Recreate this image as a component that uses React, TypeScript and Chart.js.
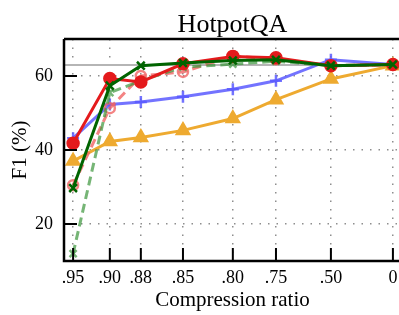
import React, { useEffect, useRef } from "react";
import { Chart, registerables } from "chart.js";

Chart.register(...registerables);

// ---- data ----
const ratioLabels = [".95", ".90", ".88", ".85", ".80", ".75", ".50", "0"];
// axis slots where each compression ratio sits (non-uniform spacing, as in the figure)
const ratioSlots = [0.27, 1.36, 2.28, 3.53, 5.01, 6.29, 7.92, 9.76];
const yTicks = [20, 40, 60];
const fullContextF1 = 63.0;

const redSolid = [41.8, 59.3, 58.4, 63.3, 65.3, 64.9, 62.8, 63.1];
const darkGreenSolid = [29.7, 57.4, 62.8, 63.5, 64.2, 64.4, 62.8, 63.1];
const greenDashed = [12.0, 55.5, 58.7, 62.4, 63.2, 64.0, 62.8, 63.1];
const redDashed = [30.5, 51.3, 60.0, 61.1, 65.4, 64.5, 62.8, 63.0];
const blueSolid = [43.2, 52.3, 53.0, 54.4, 56.4, 58.7, 64.4, 63.1];
const orangeSolid = [37.0, 42.3, 43.4, 45.3, 48.5, 53.6, 59.2, 62.8];

const FONT = "'Liberation Serif', 'Times New Roman', serif";

const toPoints = (vals: number[]) => vals.map((v, i) => ({ x: ratioSlots[i], y: v }));

const axesDecor = {
  id: "axesDecor",
  afterDatasetsDraw(chart: any) {
    const { ctx, chartArea, scales } = chart;
    const { left, right, top, bottom } = chartArea;
    const x = scales.x;
    const y = scales.y;
    ctx.save();
    ctx.strokeStyle = "#000";
    ctx.lineWidth = 2.5;
    ctx.beginPath();
    ctx.moveTo(left, top);
    ctx.lineTo(right, top);
    ctx.moveTo(left, top);
    ctx.lineTo(left, bottom);
    ctx.lineTo(right, bottom);
    ctx.stroke();
    ctx.lineWidth = 2;
    ctx.beginPath();
    y.ticks.forEach((t: any) => {
      const py = y.getPixelForValue(t.value);
      ctx.moveTo(left, py);
      ctx.lineTo(left + 13, py);
    });
    x.ticks.forEach((t: any) => {
      const px = x.getPixelForValue(t.value);
      ctx.moveTo(px, bottom);
      ctx.lineTo(px, bottom - 13);
    });
    ctx.stroke();
    ctx.restore();
  },
};

export default function App() {
  const ref = useRef<HTMLCanvasElement | null>(null);

  useEffect(() => {
    if (!ref.current) return;
    const line = (
      data: number[],
      color: string,
      pointStyle: string,
      opts: any = {}
    ) => ({
      data: toPoints(data),
      borderColor: color,
      backgroundColor: color,
      pointBorderColor: color,
      pointBackgroundColor: color,
      borderWidth: 3,
      pointStyle,
      pointRadius: 5.5,
      pointBorderWidth: 2.5,
      tension: 0,
      ...opts,
    });

    const chart = new Chart(ref.current, {
      type: "line",
      data: {
        datasets: [
          line(darkGreenSolid, "#006400", "crossRot"),
          line(redSolid, "#e41a1c", "circle", { pointRadius: 5.5 }),
          line(greenDashed, "rgba(60,150,60,0.7)", "crossRot", {
            borderDash: [9, 5],
            pointRadius: 5,
          }),
          line(redDashed, "rgba(240,100,100,0.8)", "circle", {
            borderDash: [9, 5],
            pointBackgroundColor: "rgba(255,255,255,0)",
            pointRadius: 5,
          }),
          line(blueSolid, "rgba(90,90,255,0.85)", "cross", { pointRadius: 6 }),
          line(orangeSolid, "#eeaa30", "triangle", { pointRadius: 7 }),
          {
            data: [
              { x: 0, y: fullContextF1 },
              { x: 10, y: fullContextF1 },
            ],
            borderColor: "#b5b5b5",
            borderWidth: 2,
            pointRadius: 0,
          },
        ] as any,
      },
      options: {
        animation: false,
        responsive: false,
        maintainAspectRatio: false,
        layout: { padding: { left: 0, right: 29, top: 0, bottom: 0 } },
        plugins: {
          legend: { display: false },
          tooltip: { enabled: false },
          title: {
            display: true,
            fullSize: false,
            text: "HotpotQA",
            color: "#000",
            font: { family: FONT, size: 26, weight: "normal", lineHeight: 1 },
            padding: { top: 12, bottom: 1 },
          },
        },
        scales: {
          x: {
            type: "linear",
            min: 0,
            max: 10,
            afterBuildTicks: (s: any) => {
              s.ticks = ratioSlots.map((v) => ({ value: v }));
            },
            afterFit: (s: any) => {
              s.height = 54;
            },
            ticks: {
              color: "#000",
              font: { family: FONT, size: 18 },
              padding: 6,
              maxRotation: 0,
              autoSkip: false,
              callback: (_v: any, i: number) => ratioLabels[i],
            },
            grid: {
              drawTicks: false,
              color: "rgba(130,130,130,0.9)",
              lineWidth: 1.5,
            },
            border: { display: false, dash: [1.5, 7] },
            title: {
              display: true,
              text: "Compression ratio",
              color: "#000",
              font: { family: FONT, size: 21 },
              padding: { top: 0, bottom: 2 },
            },
          },
          y: {
            type: "linear",
            min: 10,
            max: 70,
            afterBuildTicks: (s: any) => {
              s.ticks = yTicks.map((v) => ({ value: v }));
            },
            afterFit: (s: any) => {
              s.width = 64;
            },
            ticks: {
              color: "#000",
              font: { family: FONT, size: 18 },
              padding: 11,
            },
            grid: {
              drawTicks: false,
              color: "rgba(130,130,130,0.9)",
              lineWidth: 1.5,
            },
            border: { display: false, dash: [1.5, 7] },
            title: {
              display: true,
              text: "F1 (%)",
              color: "#000",
              font: { family: FONT, size: 21 },
              padding: { top: 8, bottom: 0 },
            },
          },
        },
      } as any,
      plugins: [axesDecor],
    });
    return () => chart.destroy();
  }, []);

  return (
    <div
      style={{
        position: "fixed",
        left: 0,
        top: 0,
        width: 399,
        height: 315,
        overflow: "hidden",
        background: "#fff",
      }}
    >
      <canvas
        ref={ref}
        width={430}
        height={315}
        style={{ display: "block", width: 430, height: 315 }}
      />
    </div>
  );
}
